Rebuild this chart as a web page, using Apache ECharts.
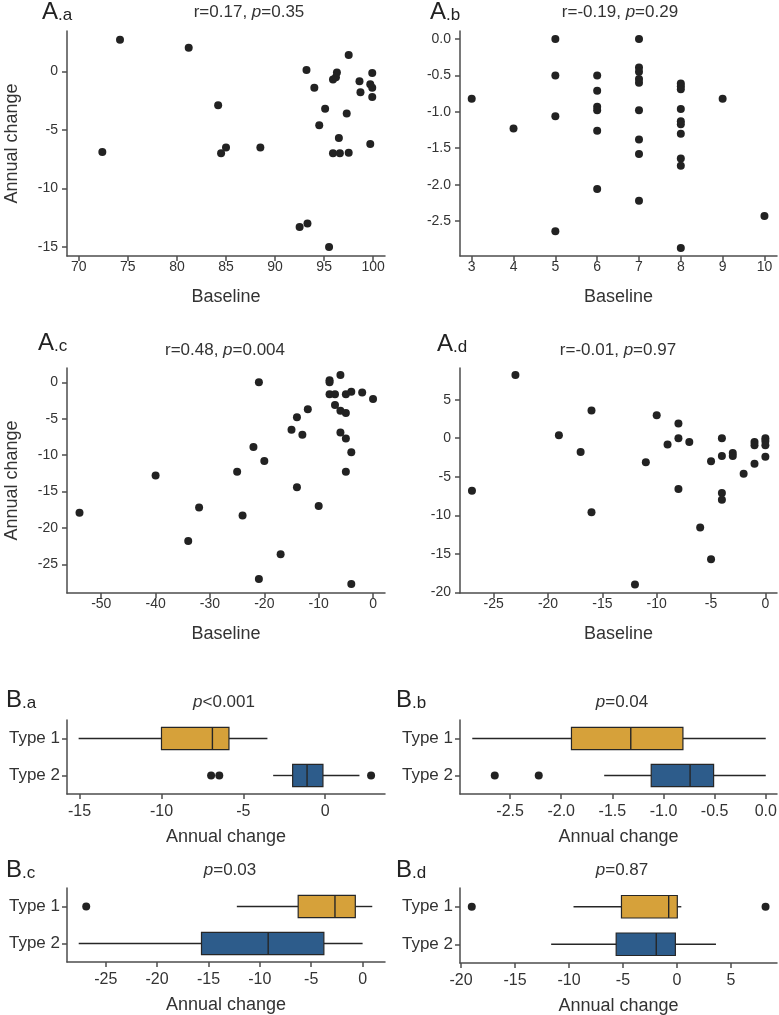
<!DOCTYPE html>
<html>
<head>
<meta charset="utf-8">
<script src="https://cdn.jsdelivr.net/npm/echarts@6.0.0/dist/echarts.min.js"></script>
<style>
  html, body { margin: 0; padding: 0; background: #fff; }
  #main { width: 779px; height: 1015px; }
</style>
</head>
<body>
<div id="main"></div>
<script>
// ---- A.a
var aaBaseline = [74.2, 81.2, 72.4, 84.2, 84.5, 85.0, 88.5, 93.2, 94.0, 95.1, 94.5, 95.9, 96.2, 96.3, 97.5, 97.3, 96.5, 95.9, 96.6, 97.5, 98.6, 98.7, 99.7, 99.9, 99.9, 99.9, 99.7, 92.5, 93.3, 95.5];
var aaChange   = [2.7, 2.0, -6.9, -2.9, -7.0, -6.5, -6.5, 0.1, -1.4, -3.2, -4.6, -0.7, -0.5, -0.1, 1.4, -3.6, -5.7, -7.0, -7.0, -6.95, -0.85, -1.8, -1.1, -0.15, -1.4, -2.2, -6.2, -13.3, -13.0, -15.0];
// ---- A.b
var abBaseline = [3, 4, 5, 5, 5, 5, 6, 6, 6, 6, 6, 6, 7, 7, 7, 7, 7, 7, 7, 7, 7, 8, 8, 8, 8, 8, 8, 8, 8, 8, 8, 9, 10];
var abChange   = [-0.82, -1.23, 0, -0.5, -1.06, -2.64, -0.5, -0.71, -0.93, -0.98, -1.26, -2.06, 0, -0.39, -0.45, -0.55, -0.6, -0.98, -1.38, -1.58, -2.22, -0.61, -0.65, -0.69, -0.96, -1.13, -1.17, -1.3, -1.64, -1.74, -2.87, -0.82, -2.43];
// ---- A.c
var acBaseline = [-54, -40, -34, -32, -25, -24, -22, -21, -21, -20, -17, -15, -14, -14, -13, -12, -10, -8, -8, -8, -7, -7, -6, -6, -6, -5, -5, -5, -5, -4, -4, -4, -2, 0];
var acChange   = [-17.9, -12.8, -21.8, -17.2, -12.3, -18.3, -8.9, 0, -27.0, -10.8, -23.6, -6.5, -4.8, -14.4, -7.2, -3.7, -17.0, 0.3, 0, -1.65, -1.65, -3.1, 1.0, -3.9, -6.9, -1.65, -4.2, -7.7, -12.3, -1.3, -9.6, -27.7, -1.4, -2.3];
// ---- A.d
var adBaseline = [-27, -23, -19, -17, -16, -16, -12, -11, -10, -9, -8, -8, -8, -7, -6, -5, -5, -4, -4, -4, -4, -3, -3, -2, -1, -1, -1, 0, 0, 0, 0];
var adChange   = [-6.8, 8.2, 0.4, -1.8, 3.6, -9.6, -19.0, -3.1, 3.0, -0.8, 1.9, 0, -6.6, -0.5, -11.6, -3.0, -15.7, 0, -2.3, -7.1, -8.0, -1.9, -2.3, -4.6, -0.5, -0.9, -3.3, 0, -0.35, -0.9, -2.4];

// ---- B boxplots: [min, Q1, median, Q3, max]
var types = ['Type 1', 'Type 2'];
var baType1 = [-15.06, -10.0, -6.89, -5.88, -3.53];
var baType2 = [-3.18, -1.99, -1.11, -0.14, 2.09];
var baOut1 = [];
var baOut2 = [-6.97, -6.47, 2.8];
var bbType1 = [-2.87, -1.9, -1.32, -0.81, 0];
var bbType2 = [-1.58, -1.12, -0.74, -0.51, 0];
var bbOut1 = [];
var bbOut2 = [-2.65, -2.22];
var bcType1 = [-12.24, -6.27, -2.69, -0.71, 0.94];
var bcType2 = [-27.63, -15.68, -9.19, -3.77, 0];
var bcOut1 = [-26.9];
var bcOut2 = [];
var bdType1 = [-9.58, -5.14, -0.77, 0.03, 0.4];
var bdType2 = [-11.65, -5.63, -1.92, -0.15, 3.61];
var bdOut1 = [-19.0, 8.2];
var bdOut2 = [];

// ---- tick labels
var aaXTicks = [70, 75, 80, 85, 90, 95, 100];
var aaYTicks = [-15, -10, -5, 0];
var abXTicks = [3, 4, 5, 6, 7, 8, 9, 10];
var abYTicks = [-2.5, -2.0, -1.5, -1.0, -0.5, 0.0];
var acXTicks = [-50, -40, -30, -20, -10, 0];
var acYTicks = [-25, -20, -15, -10, -5, 0];
var adXTicks = [-25, -20, -15, -10, -5, 0];
var adYTicks = [-20, -15, -10, -5, 0, 5];
var baXTicks = [-15, -10, -5, 0];
var bbXTicks = [-2.5, -2.0, -1.5, -1.0, -0.5, 0.0];
var bcXTicks = [-25, -20, -15, -10, -5, 0];
var bdXTicks = [-20, -15, -10, -5, 0, 5];

var FONT = '"Liberation Sans", Arial, sans-serif';
var typeColors = ['#d6a13a', '#2d5c8b'];
var AXIS = '#4d4d4d';

function pairs(xs, ys) {
    var out = [];
    for (var i = 0; i < xs.length; i++) out.push([xs[i], ys[i]]);
    return out;
}
function fixed1(v) { return v.toFixed(1); }

function valueAxis(grid, min, max, ticks, o) {
    o = o || {};
    return {
        type: 'value', gridIndex: grid, min: min, max: max,
        axisLine: { show: true, onZero: false, lineStyle: { color: AXIS, width: 1.5 } },
        axisTick: { show: true, length: 5, customValues: ticks, lineStyle: { color: AXIS, width: 1.5 } },
        axisLabel: { customValues: ticks, color: '#333', fontSize: o.fontSize || 14, fontFamily: FONT,
                     margin: o.margin || 4, formatter: o.formatter },
        splitLine: { show: false },
        name: o.name || '', nameLocation: 'middle', nameGap: o.nameGap || 32,
        nameTextStyle: { fontSize: 18, color: '#333', fontFamily: FONT }
    };
}
function typeAxis(grid) {
    return {
        type: 'category', gridIndex: grid, data: types, inverse: true,
        axisLine: { show: true, onZero: false, lineStyle: { color: AXIS, width: 1.5 } },
        axisTick: { show: true, length: 5, alignWithLabel: true, lineStyle: { color: AXIS, width: 1.5 } },
        axisLabel: { color: '#333', fontSize: 17, fontFamily: FONT, margin: 7 },
        splitLine: { show: false }
    };
}
function scatter(i, xs, ys) {
    return { type: 'scatter', xAxisIndex: i, yAxisIndex: i, symbolSize: 8,
             itemStyle: { color: '#222', opacity: 1 }, data: pairs(xs, ys) };
}

// horizontal box without whisker caps (ggplot style)
function renderBox(params, api) {
    var cat = api.value(0);
    var lo = api.coord([api.value(1), cat]);
    var q1 = api.coord([api.value(2), cat]);
    var md = api.coord([api.value(3), cat]);
    var q3 = api.coord([api.value(4), cat]);
    var hi = api.coord([api.value(5), cat]);
    var h = api.size([0, 1])[1] * 0.6;
    var line = { stroke: '#262626', lineWidth: 1.4 };
    return {
        type: 'group',
        children: [
            { type: 'line', shape: { x1: lo[0], y1: lo[1], x2: q1[0], y2: q1[1] }, style: line },
            { type: 'line', shape: { x1: q3[0], y1: q3[1], x2: hi[0], y2: hi[1] }, style: line },
            { type: 'rect', shape: { x: q1[0], y: q1[1] - h / 2, width: q3[0] - q1[0], height: h },
              style: { fill: typeColors[cat], stroke: '#262626', lineWidth: 1.2 } },
            { type: 'line', shape: { x1: md[0], y1: md[1] - h / 2, x2: md[0], y2: md[1] + h / 2 }, style: line }
        ]
    };
}
function boxes(i, t1, t2, out1, out2) {
    var outs = [];
    out1.forEach(function (v) { outs.push([v, 0]); });
    out2.forEach(function (v) { outs.push([v, 1]); });
    return [{
        type: 'custom', xAxisIndex: i, yAxisIndex: i, renderItem: renderBox,
        encode: { x: [1, 2, 3, 4, 5], y: 0 },
        data: [[0].concat(t1), [1].concat(t2)]
    }, {
        type: 'scatter', xAxisIndex: i, yAxisIndex: i, symbolSize: 8,
        itemStyle: { color: '#222', opacity: 1 }, data: outs
    }];
}
function panelTitle(x, y, big, small) {
    return { type: 'text', x: x, y: y, style: {
        text: '{a|' + big + '}{b|.' + small + '}', fill: '#222', align: 'left', verticalAlign: 'top',
        rich: { a: { fontSize: 24, fontFamily: FONT, verticalAlign: 'bottom', fill: '#222' },
                b: { fontSize: 17, fontFamily: FONT, verticalAlign: 'bottom', fill: '#222' } } } };
}
function note(x, y, text) {
    return { type: 'text', x: x, y: y, style: {
        text: text, fill: '#333', align: 'center', verticalAlign: 'top', fontSize: 17, fontFamily: FONT,
        rich: { i: { fontStyle: 'italic', fontSize: 17, fontFamily: FONT, fill: '#333' } } } };
}

var chart = echarts.init(document.getElementById('main'));

var grids = [
    { left: 67, top: 31, width: 318, height: 225 },
    { left: 460, top: 31, width: 317, height: 225 },
    { left: 67, top: 368, width: 318, height: 225 },
    { left: 460, top: 368, width: 317, height: 225 },
    { left: 67, top: 720, width: 318, height: 74 },
    { left: 460, top: 720, width: 317, height: 74 },
    { left: 67, top: 888, width: 318, height: 74 },
    { left: 460, top: 888, width: 317, height: 75 }
];
grids.forEach(function (g) { g.containLabel = false; g.outerBoundsMode = 'none'; });

var bAxis = { name: 'Annual change', fontSize: 16, nameGap: 34, margin: 10 };
var xAxes = [
    valueAxis(0, 68.8, 101.2, aaXTicks, { name: 'Baseline' }),
    valueAxis(1, 2.72, 10.3, abXTicks, { name: 'Baseline' }),
    valueAxis(2, -56.3, 2.2, acXTicks, { name: 'Baseline' }),
    valueAxis(3, -28.1, 1.07, adXTicks, { name: 'Baseline' }),
    valueAxis(4, -15.77, 3.65, baXTicks, bAxis),
    valueAxis(5, -2.99, 0.11, bbXTicks, { name: 'Annual change', fontSize: 16, nameGap: 34, margin: 10, formatter: fixed1 }),
    valueAxis(6, -28.77, 2.18, bcXTicks, bAxis),
    valueAxis(7, -20.09, 9.26, bdXTicks, bAxis)
];
var yAxes = [
    valueAxis(0, -15.77, 3.44, aaYTicks, { name: 'Annual change', nameGap: 46, margin: 9 }),
    valueAxis(1, -2.98, 0.11, abYTicks, { margin: 9, formatter: fixed1 }),
    valueAxis(2, -28.94, 1.97, acYTicks, { name: 'Annual change', nameGap: 46, margin: 9 }),
    valueAxis(3, -20.09, 9.12, adYTicks, { margin: 9 }),
    typeAxis(4), typeAxis(5), typeAxis(6), typeAxis(7)
];

var series = [
    scatter(0, aaBaseline, aaChange),
    scatter(1, abBaseline, abChange),
    scatter(2, acBaseline, acChange),
    scatter(3, adBaseline, adChange)
].concat(
    boxes(4, baType1, baType2, baOut1, baOut2),
    boxes(5, bbType1, bbType2, bbOut1, bbOut2),
    boxes(6, bcType1, bcType2, bcOut1, bcOut2),
    boxes(7, bdType1, bdType2, bdOut1, bdOut2)
);

chart.setOption({
    animation: false,
    backgroundColor: '#fff',
    grid: grids,
    xAxis: xAxes,
    yAxis: yAxes,
    series: series,
    graphic: [
        panelTitle(42, 0, 'A', 'a'), note(249, 4, 'r=0.17, {i|p}=0.35'),
        panelTitle(430, 0, 'A', 'b'), note(620, 4, 'r=-0.19, {i|p}=0.29'),
        panelTitle(38, 331, 'A', 'c'), note(225, 342, 'r=0.48, {i|p}=0.004'),
        panelTitle(437, 332, 'A', 'd'), note(618, 342, 'r=-0.01, {i|p}=0.97'),
        panelTitle(6, 688, 'B', 'a'), note(224, 694, '{i|p}<0.001'),
        panelTitle(396, 688, 'B', 'b'), note(622, 694, '{i|p}=0.04'),
        panelTitle(6, 858, 'B', 'c'), note(230, 862, '{i|p}=0.03'),
        panelTitle(396, 858, 'B', 'd'), note(622, 862, '{i|p}=0.87')
    ]
});
</script>
</body>
</html>
